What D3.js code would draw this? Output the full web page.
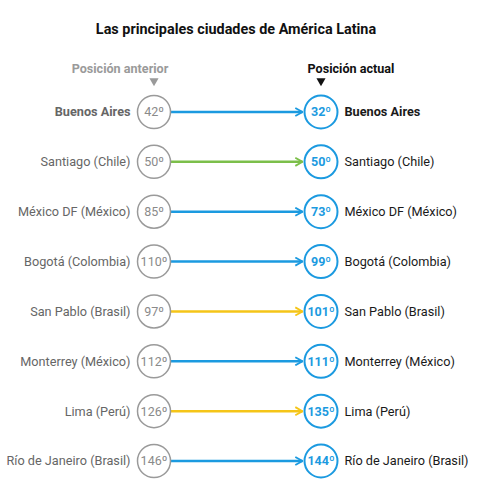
<!DOCTYPE html>
<html>
<head>
<meta charset="utf-8">
<script src="https://cdn.jsdelivr.net/npm/d3@7"></script>
<style>
  body { margin: 0; background: #fff; }
  text { font-family: Roboto, "Noto Sans", sans-serif; }
</style>
</head>
<body>
<script>
var cities = [
  "Buenos Aires",
  "Santiago (Chile)",
  "México DF (México)",
  "Bogotá (Colombia)",
  "San Pablo (Brasil)",
  "Monterrey (México)",
  "Lima (Perú)",
  "Río de Janeiro (Brasil)"
];
var previous = [42, 50, 85, 110, 97, 112, 126, 146];
var current = [32, 50, 73, 99, 101, 111, 135, 144];

var WIDTH = 500, HEIGHT = 484;
var BLUE = "#1b9ae0", GREEN = "#7cbf4a", YELLOW = "#f5c518", GRAY = "#9a9a9a";

var svg = d3
  .select("body")
  .append("svg")
  .attr("width", WIDTH)
  .attr("height", HEIGHT);

var y = d3.scalePoint().domain(cities).range([112, 461]);
var x = d3.scaleOrdinal().domain(["anterior", "actual"]).range([154, 321]);
var r = 16.5;

function lineColor(i) {
  if (current[i] < previous[i]) return BLUE;
  if (current[i] > previous[i]) return YELLOW;
  return GREEN;
}

// title
svg
  .append("text")
  .attr("x", 236)
  .attr("y", 34)
  .attr("text-anchor", "middle")
  .style("font-size", "14.4px")
  .style("font-weight", "bold")
  .style("fill", "#111")
  .text("Las principales ciudades de América Latina");

// column headers
svg
  .append("text")
  .attr("x", 120)
  .attr("y", 73)
  .attr("text-anchor", "middle")
  .style("font-size", "12.6px")
  .style("font-weight", "bold")
  .style("fill", GRAY)
  .text("Posición anterior");

svg
  .append("text")
  .attr("x", 351)
  .attr("y", 73)
  .attr("text-anchor", "middle")
  .style("font-size", "12.6px")
  .style("font-weight", "bold")
  .style("fill", "#111")
  .text("Posición actual");

svg
  .append("path")
  .attr("d", d3.symbol().type(d3.symbolTriangle).size(36))
  .attr("transform", "translate(" + x("anterior") + ",81) rotate(180)")
  .attr("fill", GRAY);

svg
  .append("path")
  .attr("d", d3.symbol().type(d3.symbolTriangle).size(36))
  .attr("transform", "translate(" + x("actual") + ",81) rotate(180)")
  .attr("fill", "#111");

// arrow heads, one per colour
var defs = svg.append("defs");
[BLUE, GREEN, YELLOW].forEach(function (c, k) {
  defs
    .append("marker")
    .attr("id", "arrow" + k)
    .attr("viewBox", "0 -5 10 10")
    .attr("refX", 9)
    .attr("refY", 0)
    .attr("orient", "auto")
    .attr("markerUnits", "userSpaceOnUse")
    .attr("markerWidth", 9)
    .attr("markerHeight", 10)
    .append("path")
    .attr("d", "M 1,-4.5 L 9,0 L 1,4.5")
    .attr("fill", "none")
    .attr("stroke", c)
    .attr("stroke-width", 2);
});

function markerFor(c) {
  return "url(#arrow" + [BLUE, GREEN, YELLOW].indexOf(c) + ")";
}

var rows = svg
  .selectAll(".row")
  .data(cities)
  .enter()
  .append("g")
  .attr("class", "row")
  .attr("transform", function (d) {
    return "translate(0," + y(d) + ")";
  });

rows
  .append("line")
  .attr("x1", x("anterior") + r)
  .attr("x2", x("actual") - r - 2)
  .attr("y1", 0)
  .attr("y2", 0)
  .attr("stroke", function (d, i) {
    return lineColor(i);
  })
  .attr("stroke-width", 2.5)
  .attr("marker-end", function (d, i) {
    return markerFor(lineColor(i));
  });

rows
  .append("circle")
  .attr("cx", x("anterior"))
  .attr("r", r)
  .attr("fill", "#fff")
  .attr("stroke", GRAY)
  .attr("stroke-width", 1.5);

rows
  .append("circle")
  .attr("cx", x("actual"))
  .attr("r", r)
  .attr("fill", "#fff")
  .attr("stroke", BLUE)
  .attr("stroke-width", 2);

rows
  .append("text")
  .attr("x", x("anterior"))
  .attr("dy", "0.35em")
  .attr("text-anchor", "middle")
  .style("font-size", "12.5px")
  .style("fill", "#8a8a8a")
  .text(function (d, i) {
    return previous[i] + "º";
  });

rows
  .append("text")
  .attr("x", x("actual"))
  .attr("dy", "0.35em")
  .attr("text-anchor", "middle")
  .style("font-size", "12.5px")
  .style("font-weight", "bold")
  .style("fill", BLUE)
  .text(function (d, i) {
    return current[i] + "º";
  });

rows
  .append("text")
  .attr("x", x("anterior") - r - 7)
  .attr("dy", "0.35em")
  .attr("text-anchor", "end")
  .style("font-size", "12.7px")
  .style("font-weight", function (d, i) {
    return i === 0 ? "bold" : "normal";
  })
  .style("fill", "#666")
  .text(function (d) {
    return d;
  });

rows
  .append("text")
  .attr("x", x("actual") + r + 7)
  .attr("dy", "0.35em")
  .attr("text-anchor", "start")
  .style("font-size", "12.7px")
  .style("font-weight", function (d, i) {
    return i === 0 ? "bold" : "normal";
  })
  .style("fill", "#1a1a1a")
  .text(function (d) {
    return d;
  });
</script>
</body>
</html>
